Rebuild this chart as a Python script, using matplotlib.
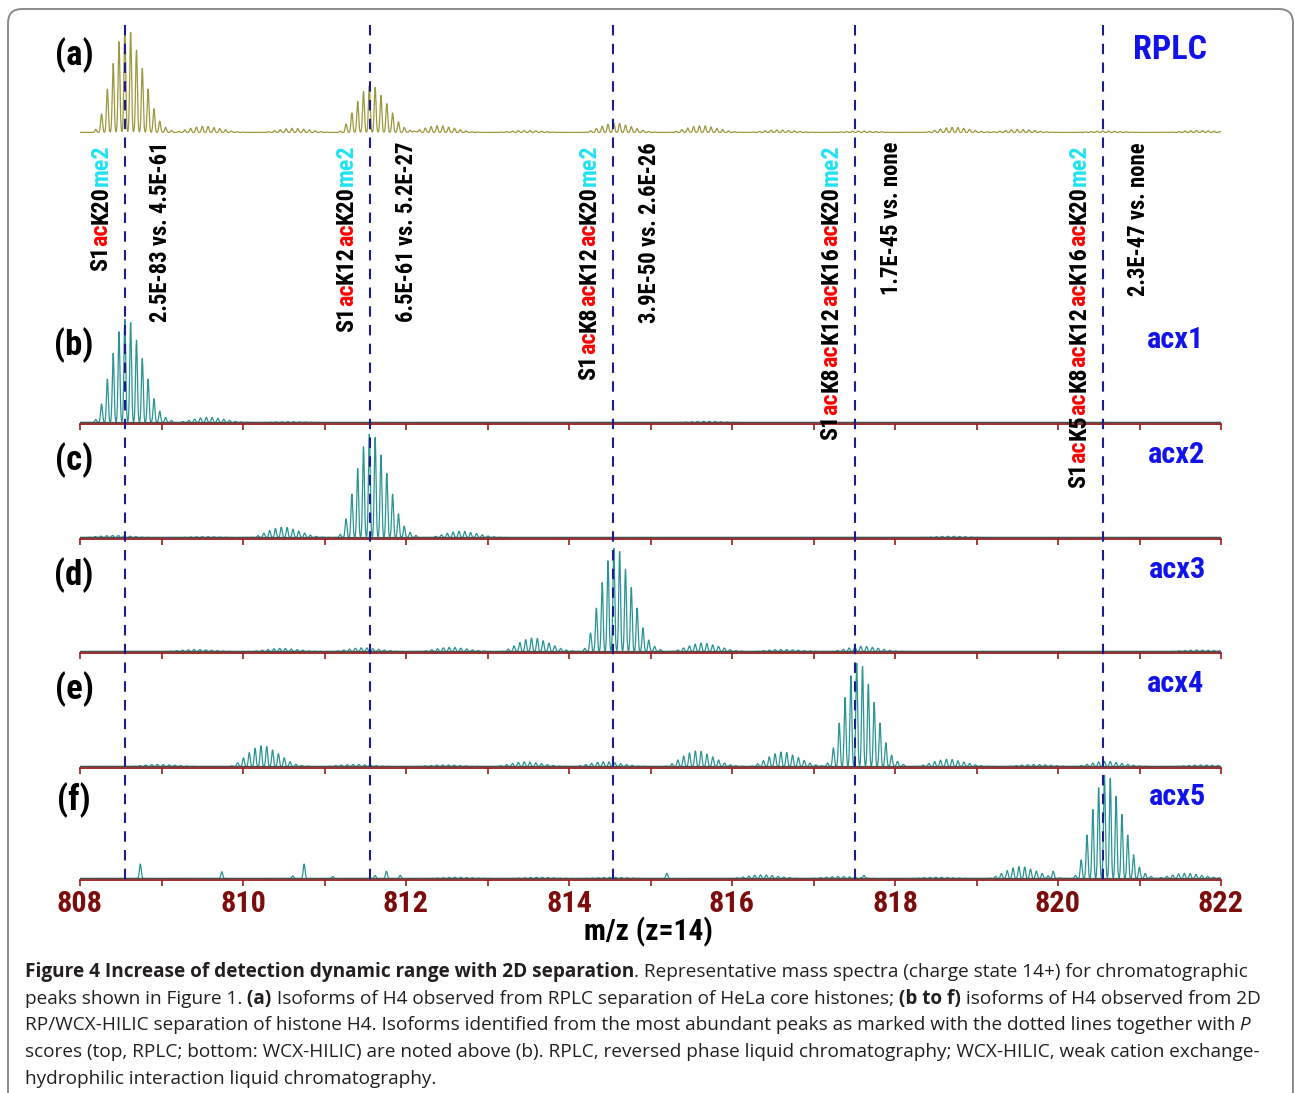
import re
import numpy as np
import matplotlib
matplotlib.use("Agg")
import matplotlib.pyplot as plt
from matplotlib import font_manager
from matplotlib.patches import FancyBboxPatch
from matplotlib.lines import Line2D
from matplotlib.transforms import IdentityTransform

# ------------------------------------------------------------------
# data
# ------------------------------------------------------------------
W, H = 1295, 1093

# relative isotope intensities of one envelope (charge 14+), apex at index 5
ISO_PATTERN = [0.03, 0.18, 0.42, 0.67, 0.88, 1.00, 0.97, 0.80, 0.62, 0.42, 0.23, 0.11, 0.05, 0.02]
ISO_APEX = 5
ISO_STEP = 1 / 14

# envelope apex m/z and apex height (relative to tallest peak in the panel)
ENV_A_MZ = [808.55, 809.50, 810.60, 811.55, 812.38, 813.45, 814.55, 815.60, 816.55, 817.55, 818.70, 819.50, 820.55, 821.70]
ENV_A_H = [1.00, 0.06, 0.04, 0.45, 0.065, 0.02, 0.09, 0.065, 0.025, 0.015, 0.05, 0.03, 0.015, 0.02]

ENV_B_MZ = [808.55, 809.55, 810.55, 815.65]
ENV_B_H = [1.00, 0.05, 0.008, 0.012]

ENV_C_MZ = [808.40, 809.50, 810.47, 811.55, 812.65, 818.65]
ENV_C_H = [0.02, 0.008, 0.10, 1.00, 0.06, 0.012]

ENV_D_MZ = [809.40, 810.45, 811.45, 812.53, 813.54, 814.55, 815.62, 816.60, 817.58, 821.70]
ENV_D_H = [0.02, 0.03, 0.035, 0.04, 0.13, 1.00, 0.08, 0.02, 0.05, 0.015]

ENV_E_MZ = [808.95, 810.22, 811.35, 812.45, 813.45, 814.42, 815.55, 816.60, 817.53, 818.63, 819.70, 820.57, 821.75]
ENV_E_H = [0.02, 0.20, 0.02, 0.015, 0.045, 0.045, 0.15, 0.14, 1.00, 0.07, 0.02, 0.05, 0.015]

ENV_F_MZ = [812.60, 813.60, 814.50, 816.35, 817.30, 818.50, 819.52, 820.57, 821.55]
ENV_F_H = [0.012, 0.012, 0.012, 0.035, 0.02, 0.012, 0.115, 1.00, 0.05]
# single peaks in (f)
SPIKE_F_MZ = [808.74, 809.74, 810.61, 810.75, 811.10, 811.62, 811.76, 811.93, 815.20, 817.62, 819.94]
SPIKE_F_H = [0.14, 0.065, 0.025, 0.14, 0.02, 0.03, 0.07, 0.03, 0.05, 0.03, 0.06]

PANELS = ["(a)", "(b)", "(c)", "(d)", "(e)", "(f)"]
RUNS = ["RPLC", "acx1", "acx2", "acx3", "acx4", "acx5"]

ISOFORM_MZ = [808.55, 811.56, 814.54, 817.51, 820.55]
ISOFORMS = ["S1acK20me2", "S1acK12acK20me2", "S1acK8acK12acK20me2",
            "S1acK8acK12acK16acK20me2", "S1acK5acK8acK12acK16acK20me2"]
P_SCORES = ["2.5E-83 vs. 4.5E-61", "6.5E-61 vs. 5.2E-27", "3.9E-50 vs. 2.6E-26",
            "1.7E-45 vs. none", "2.3E-47 vs. none"]

XTICKS = list(range(808, 823))

# ------------------------------------------------------------------
# layout (pixel positions in the 1295 x 1093 picture)
# ------------------------------------------------------------------
X0, X1 = 80, 1221                  # m/z 808 .. 822
BASELINES = [134, 424, 539, 653, 768, 880]
AX_H = 115
PANEL_Y = [55, 345, 460, 575, 689, 800]
RUN_Y = [50, 340, 455, 570, 684, 797]
RUN_X = [1170, 1175, 1177, 1177, 1176, 1177]

_names = {f.name for f in font_manager.fontManager.ttflist}
NARROW = ["DejaVu Sans"]
for cand in ["Liberation Sans Narrow", "Arial Narrow", "Roboto Condensed",
             "Liberation Sans", "Arial"]:
    if cand in _names:
        NARROW = [cand, "DejaVu Sans"]
        break

OLIVE = "#9c983e"
TEAL = "#2a9494"
NAVY = "#1c1c8c"
MAROON = "#7d0c0c"
BLUE = "#1212ea"
CYAN = "#22e2f2"

GRID = np.arange(807.95, 822.05, 0.002)
SIG = 0.011


def spectrum(env_mz, env_h, spike_mz=(), spike_h=()):
    y = np.zeros_like(GRID)
    for c, h in zip(env_mz, env_h):
        for k, rel in enumerate(ISO_PATTERN):
            mz = c + (k - ISO_APEX) * ISO_STEP
            y += h * rel * np.exp(-0.5 * ((GRID - mz) / SIG) ** 2)
    for mz, h in zip(spike_mz, spike_h):
        y += h * np.exp(-0.5 * ((GRID - mz) / SIG) ** 2)
    return y


def fx(x):
    return x / W


def fy(y):
    return 1 - y / H


fig = plt.figure(figsize=(W / 100, H / 100), dpi=100)
renderer = fig.canvas.get_renderer()


def text_width(s, **kw):
    t = fig.text(0, 0, s, **kw)
    w = t.get_window_extent(renderer).width
    t.remove()
    return w


def fit_size(s, target, **kw):
    # font size that gives the text the width seen in the reference
    return 20 * target / text_width(s, fontsize=20, **kw)


BOLD = dict(family=NARROW, fontweight="bold")
SZ_TICK = fit_size("808", 46, **BOLD)
SZ_PANEL = fit_size("(a)", 39, **BOLD)
SZ_RPLC = fit_size("RPLC", 74, **BOLD)
SZ_ACX = fit_size("acx1", 57, **BOLD)
SZ_XLAB = fit_size("m/z (z=14)", 129, **BOLD)
SZ_LAB = fit_size(P_SCORES[0], 181, **BOLD)
SZ_NAME = fit_size(ISOFORMS[-1], 343, **BOLD)

# outer rounded frame
frame = FancyBboxPatch((8, -30), 1285, H - 9 + 30,
                       boxstyle="round,pad=0,rounding_size=14",
                       transform=IdentityTransform(), fill=False,
                       edgecolor="#8a8a8a", linewidth=1.4)
fig.add_artist(frame)

spectra = [
    spectrum(ENV_A_MZ, ENV_A_H),
    spectrum(ENV_B_MZ, ENV_B_H),
    spectrum(ENV_C_MZ, ENV_C_H),
    spectrum(ENV_D_MZ, ENV_D_H),
    spectrum(ENV_E_MZ, ENV_E_H),
    spectrum(ENV_F_MZ, ENV_F_H, SPIKE_F_MZ, SPIKE_F_H),
]

for i, y in enumerate(spectra):
    base = BASELINES[i]
    ax = fig.add_axes([fx(X0), fy(base), fx(X1) - fx(X0), AX_H / H])
    ax.set_xlim(808, 822)
    ax.set_ylim(-0.015, 1.1)
    ax.patch.set_alpha(0)
    for s in ["top", "right", "left"]:
        ax.spines[s].set_visible(False)
    ax.set_yticks([])
    if i == 0:
        ax.spines["bottom"].set_visible(False)
        ax.set_xticks([])
        ax.plot(GRID, y, color=OLIVE, lw=0.9)
        continue
    ax.plot(GRID, y, color=TEAL, lw=0.9, zorder=2)
    ax.axhline(0, color="#4d4d4d", lw=0.9, zorder=3)
    ax.spines["bottom"].set_color("#9a1c1c")
    ax.spines["bottom"].set_linewidth(1.3)
    ax.set_xticks(XTICKS)
    ax.tick_params(axis="x", direction="out", length=4, width=1.2, color="#9a1c1c", pad=3)
    if i < 5:
        ax.tick_params(labelbottom=False)
    else:
        ax.set_xticklabels([str(t) if t % 2 == 0 else "" for t in XTICKS],
                           fontsize=SZ_TICK, color=MAROON, **BOLD)

# panel letters and run names
for i in range(6):
    fig.text(fx(74), fy(PANEL_Y[i]), PANELS[i], fontsize=SZ_PANEL,
             ha="center", va="center", **BOLD)
    fig.text(fx(RUN_X[i]), fy(RUN_Y[i]), RUNS[i], fontsize=SZ_RPLC if i == 0 else SZ_ACX,
             color=BLUE, ha="center", va="center", **BOLD)

fig.text(fx(648), fy(932), "m/z (z=14)", fontsize=SZ_XLAB, ha="center", va="center", **BOLD)

# dashed marker lines through all panels
for mz in ISOFORM_MZ:
    x = X0 + (mz - 808) / 14 * (X1 - X0)
    fig.add_artist(Line2D([fx(x), fx(x)], [fy(25), fy(880)], color=NAVY, lw=1.5,
                          linestyle=(0, (5, 4)), transform=fig.transFigure, zorder=10))

# rotated isoform names (coloured modifications) and P scores
LAB = dict(fontsize=SZ_LAB, **BOLD)
NAME = dict(fontsize=SZ_NAME, **BOLD)
TOP = 144
for mz, name, ps in zip(ISOFORM_MZ, ISOFORMS, P_SCORES):
    x = X0 + (mz - 808) / 14 * (X1 - X0)
    parts = [p for p in re.split(r"(ac|me2)", name) if p]
    total = text_width(name, **NAME)
    start = TOP + total
    prefix = ""
    for p in parts:
        off = text_width(prefix, **NAME) if prefix else 0
        col = "red" if p == "ac" else CYAN if p == "me2" else "black"
        fig.text(fx(x - 24), fy(start - off), p, rotation=90, ha="center", va="bottom",
                 color=col, **NAME)
        prefix += p
    fig.text(fx(x + 36), fy(TOP - 2), ps, rotation=90, ha="center", va="top", **LAB)

# caption
caption = [
    [("Figure 4 Increase of detection dynamic range with 2D separation", "bold", "normal"),
     (". Representative mass spectra (charge state 14+) for chromatographic", "normal", "normal")],
    [("peaks shown in Figure 1.", "normal", "normal"), (" (a)", "bold", "normal"),
     (" Isoforms of H4 observed from RPLC separation of HeLa core histones;", "normal", "normal"),
     (" (b to f)", "bold", "normal"), (" isoforms of H4 observed from 2D", "normal", "normal")],
    [("RP/WCX-HILIC separation of histone H4. Isoforms identified from the most abundant "
      "peaks as marked with the dotted lines together with", "normal", "normal"),
     (" P", "normal", "italic")],
    [("scores (top, RPLC; bottom: WCX-HILIC) are noted above (b). RPLC, reversed phase "
      "liquid chromatography; WCX-HILIC, weak cation exchange-", "normal", "normal")],
    [("hydrophilic interaction liquid chromatography.", "normal", "normal")],
]
CAP_FAM = ["Open Sans", "DejaVu Sans"]
SZ_CAP = fit_size(caption[3][0][0], 1235, family=CAP_FAM)
CAP = dict(family=CAP_FAM, fontsize=SZ_CAP, color="#231f20")
CAP_Y = [977, 1004, 1030, 1057, 1084]
for line, yb in zip(caption, CAP_Y):
    x = 25
    for txt, wt, st in line:
        t = fig.text(fx(x), fy(yb), txt, fontweight=wt, fontstyle=st, ha="left",
                     va="baseline", **CAP)
        x += t.get_window_extent(renderer).width

fig.savefig("out.png", dpi=100)
